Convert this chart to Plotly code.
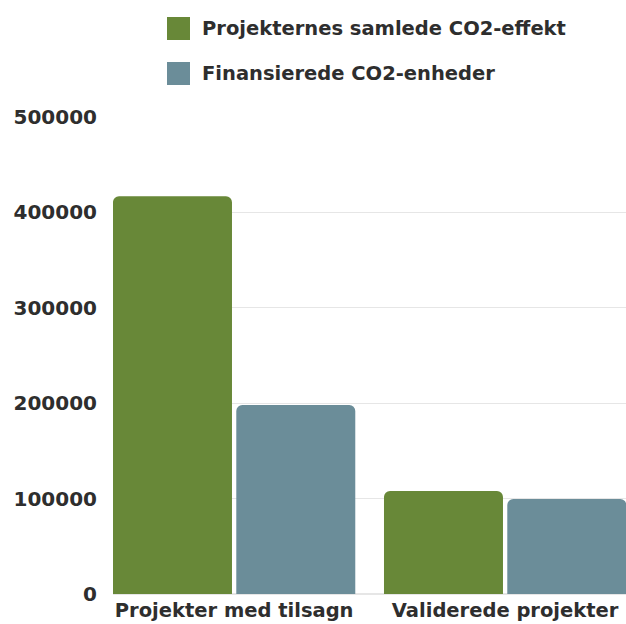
import plotly.graph_objects as go

categories = ["Projekter med tilsagn", "Validerede projekter"]
series_names = ["Projekternes samlede CO2-effekt", "Finansierede CO2-enheder"]
effekt_values = [417000, 108000]
enheder_values = [198000, 99500]
y_ticks = [0, 100000, 200000, 300000, 400000, 500000]

colors = ["#688838", "#6b8d99"]
W, H = 626, 624
ML, MR, MT, MB = 113, 0, 117, 30
PW, PH = W - ML - MR, H - MT - MB
FONT = "DejaVu Sans"
TXT = "#2e2e2e"

def px_x(p):
    return (p - ML) / PW

def px_y(p):
    return 1 - (p - MT) / PH

fig = go.Figure()
for name, vals, c in zip(series_names, [effekt_values, enheder_values], colors):
    fig.add_trace(go.Bar(x=categories, y=vals, name=name, marker=dict(color=c, line=dict(width=0)),
                         showlegend=False))

# custom legend
shapes = []
annotations = []
for i, (name, c) in enumerate(zip(series_names, colors)):
    top = 17 + i * 45
    shapes.append(dict(type="rect", xref="paper", yref="paper",
                       x0=px_x(167), x1=px_x(190), y0=px_y(top + 23), y1=px_y(top),
                       fillcolor=c, line=dict(width=0)))
    annotations.append(dict(xref="paper", yref="paper", x=px_x(200), y=px_y(top + 11.5),
                            xanchor="left", yanchor="middle", showarrow=False, text=name,
                            font=dict(family=FONT, size=19.5, color=TXT, weight="bold")))

fig.update_layout(
    width=W, height=H,
    margin=dict(l=ML, r=MR, t=MT, b=MB, pad=0),
    paper_bgcolor="white", plot_bgcolor="white",
    barmode="group", bargap=0.09, bargroupgap=0.035, barcornerradius=6,
    shapes=shapes, annotations=annotations,
    xaxis=dict(type="category", range=[-0.447, 1.446], showgrid=False, zeroline=False,
               showline=False, ticks="", ticklabelstandoff=2,
               tickfont=dict(family=FONT, size=19.5, color=TXT, weight="bold")),
    yaxis=dict(range=[0, 500000], tickvals=y_ticks, ticktext=[str(v) for v in y_ticks],
               showgrid=True, gridcolor="#e6e6e6", gridwidth=1, zeroline=True, zerolinecolor="#e6e6e6",
               showline=False, ticks="", ticklabelstandoff=15,
               tickfont=dict(family=FONT, size=20, color=TXT, weight="bold")),
)

fig.write_html("out.html", config={"displayModeBar": False},
               post_script="document.body.style.margin='0';document.body.style.overflow='hidden';")
